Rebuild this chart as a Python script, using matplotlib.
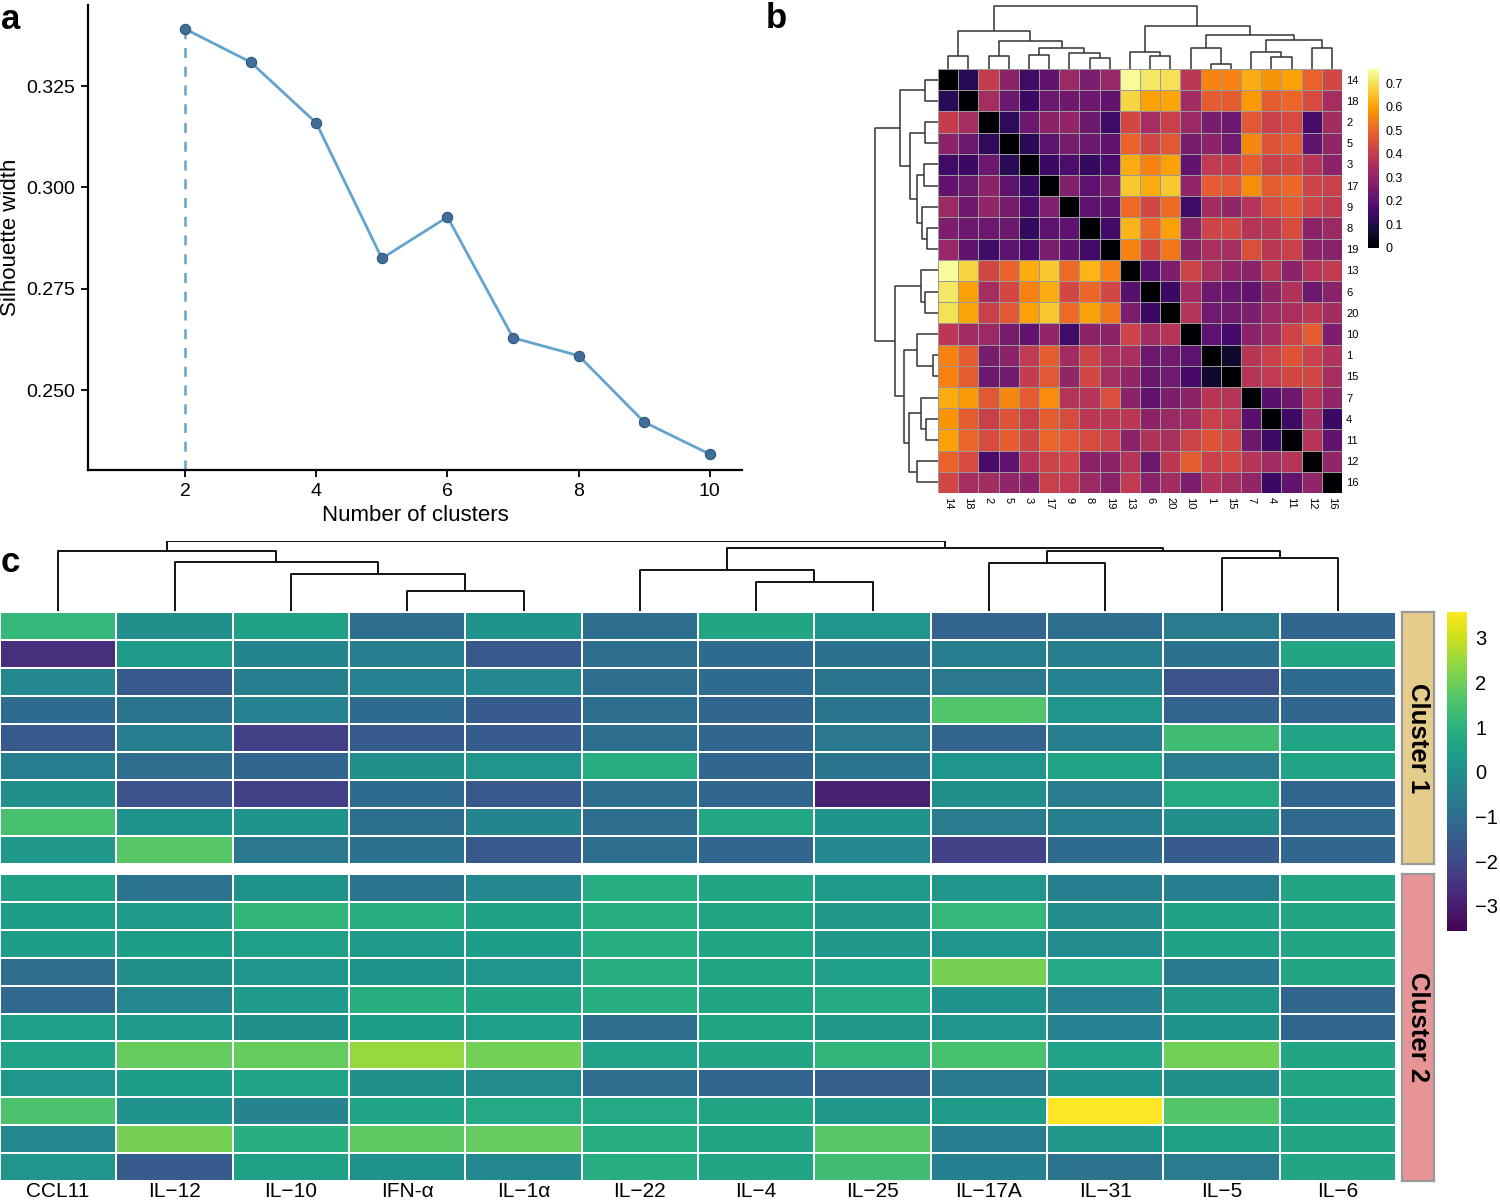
import numpy as np
import matplotlib.pyplot as plt
from matplotlib.cm import ScalarMappable
from matplotlib.colors import Normalize

plt.rcParams['font.family'] = ['Liberation Sans', 'DejaVu Sans']

# ---- panel a: silhouette width ----
k_values = [2, 3, 4, 5, 6, 7, 8, 9, 10]
silhouette = [0.3391, 0.3309, 0.3159, 0.2825, 0.2927, 0.2629, 0.2585, 0.2421, 0.2342]
best_k = 2

# ---- panel b: distance matrix (display order) ----
dist_labels = ['14', '18', '2', '5', '3', '17', '9', '8', '19', '13',
               '6', '20', '10', '1', '15', '7', '4', '11', '12', '16']
# upper triangle, row i holds columns i+1 .. 19
dist_upper = [
    [0.11, 0.40, 0.29, 0.15, 0.21, 0.32, 0.26, 0.31, 0.75, 0.71, 0.70, 0.38, 0.55, 0.55, 0.62, 0.58, 0.60, 0.49, 0.43],
    [0.34, 0.23, 0.14, 0.23, 0.235, 0.23, 0.21, 0.68, 0.60, 0.61, 0.33, 0.48, 0.48, 0.59, 0.48, 0.50, 0.44, 0.34],
    [0.12, 0.23, 0.29, 0.30, 0.23, 0.15, 0.43, 0.34, 0.41, 0.32, 0.255, 0.23, 0.47, 0.41, 0.44, 0.165, 0.335],
    [0.11, 0.20, 0.25, 0.23, 0.205, 0.49, 0.43, 0.47, 0.25, 0.29, 0.24, 0.56, 0.46, 0.48, 0.21, 0.30],
    [0.14, 0.17, 0.13, 0.17, 0.62, 0.55, 0.60, 0.21, 0.39, 0.40, 0.48, 0.41, 0.43, 0.37, 0.29],
    [0.27, 0.20, 0.26, 0.66, 0.62, 0.66, 0.30, 0.48, 0.47, 0.57, 0.48, 0.50, 0.42, 0.41],
    [0.20, 0.21, 0.51, 0.43, 0.51, 0.15, 0.33, 0.30, 0.37, 0.44, 0.47, 0.42, 0.39],
    [0.155, 0.63, 0.50, 0.60, 0.29, 0.42, 0.43, 0.37, 0.38, 0.44, 0.29, 0.32],
    [0.55, 0.43, 0.53, 0.29, 0.35, 0.34, 0.45, 0.38, 0.41, 0.29, 0.285],
    [0.19, 0.26, 0.42, 0.35, 0.30, 0.29, 0.38, 0.29, 0.37, 0.39],
    [0.14, 0.33, 0.23, 0.225, 0.21, 0.29, 0.36, 0.23, 0.285],
    [0.37, 0.24, 0.24, 0.26, 0.32, 0.35, 0.38, 0.335],
    [0.20, 0.16, 0.29, 0.33, 0.42, 0.48, 0.26],
    [0.06, 0.375, 0.41, 0.46, 0.41, 0.36],
    [0.37, 0.39, 0.43, 0.43, 0.34],
    [0.19, 0.235, 0.37, 0.30],
    [0.145, 0.33, 0.14],
    [0.37, 0.21],
    [0.30],
]
dist_max = 0.76
dist_ticks = [0, 0.1, 0.2, 0.3, 0.4, 0.5, 0.6, 0.7]
# tree over leaf positions: (left, right, merge height)
dist_tree = (((0, 1, 12.7),
              ((2, 3, 12.7), ((4, 5, 13.7), (6, (7, 8, 11.0), 16.0), 21.0), 27.7), 37.7),
             ((9, (10, 11, 12.7), 17.0),
              ((12, (13, 14, 5.0), 21.0),
               ((15, (16, 17, 12.0), 17.0), (18, 19, 21.0), 28.7), 34.3), 42.7),
             62.7)

# ---- panel c: cytokine z-scores ----
cytokines = ['CCL11', 'IL\u221212', 'IL\u221210', 'IFN-\u03b1', 'IL\u22121\u03b1', 'IL\u221222',
             'IL\u22124', 'IL\u221225', 'IL\u221217A', 'IL\u221231', 'IL\u22125', 'IL\u22126']
cluster1_z = [
    [1.2, 0.0, 0.5, -1.0, 0.1, -1.0, 0.65, 0.15, -1.3, -1.0, -0.6, -1.2],
    [-2.6, 0.35, -0.3, -0.5, -1.6, -1.0, -1.1, -0.9, -0.5, -0.5, -0.9, 0.65],
    [-0.2, -1.6, -0.5, -0.4, -0.2, -1.0, -1.1, -0.8, -0.7, -0.4, -1.75, -1.1],
    [-1.1, -0.8, -0.4, -1.1, -1.5, -1.0, -1.2, -0.8, 1.6, 0.15, -1.3, -1.2],
    [-1.6, -0.55, -2.2, -1.5, -1.5, -1.0, -1.2, -0.7, -1.3, -0.5, 1.4, 0.6],
    [-0.5, -1.05, -1.2, 0.0, 0.15, 0.85, -1.2, -0.8, 0.2, 0.6, -0.6, 0.6],
    [0.0, -1.75, -2.2, -1.1, -1.6, -1.0, -1.2, -2.9, 0.0, -0.6, 0.8, -1.2],
    [1.5, 0.05, 0.1, -0.95, -0.3, -1.0, 0.7, 0.1, -0.6, -0.5, 0.0, -1.15],
    [0.25, 1.7, -0.7, -0.9, -1.6, -1.0, -1.2, -0.2, -2.15, -1.1, -1.5, -1.2],
]
cluster2_z = [
    [0.5, -0.85, 0.05, -0.8, -0.2, 0.85, 0.65, 0.35, 0.15, -0.5, -0.5, 0.65],
    [0.4, 0.3, 1.1, 0.95, 0.5, 0.85, 0.65, 0.25, 1.2, -0.15, 0.5, 0.65],
    [0.4, 0.4, 0.45, 0.35, 0.4, 0.85, 0.65, 0.25, 0.2, -0.15, 0.5, 0.65],
    [-1.0, 0.0, 0.2, 0.05, 0.2, 0.85, 0.65, 0.45, 2.1, 0.75, -0.65, 0.65],
    [-1.15, -0.25, 0.35, 0.95, 0.65, 0.85, 0.65, 0.8, 0.1, -0.4, 0.25, -1.2],
    [0.45, 0.3, 0.0, 0.4, 0.45, -1.0, 0.65, 0.25, 0.2, -0.4, 0.1, -1.2],
    [0.55, 1.9, 1.9, 2.45, 2.05, 0.55, 0.65, 1.1, 1.5, 0.55, 2.05, 0.65],
    [0.2, 0.4, 0.6, 0.0, -0.15, -1.0, -1.25, -1.45, -0.65, 0.1, 0.0, 0.65],
    [1.55, 0.1, -0.35, 0.6, 0.75, 0.75, 0.65, 0.25, 0.35, 3.58, 1.65, 0.6],
    [-0.25, 2.1, 0.95, 1.8, 1.9, 0.85, 0.65, 1.7, -0.55, 0.25, 0.5, 0.65],
    [0.15, -1.5, 0.5, 0.05, -0.2, 0.85, 0.65, 1.4, -0.45, -0.85, -0.6, 0.65],
]
cluster_names = ['Cluster 1', 'Cluster 2']
cluster_colors = ['#E6CC8C', '#E69496']
z_min, z_max = -3.56, 3.58
z_ticks = [-3, -2, -1, 0, 1, 2, 3]
cyto_tree = ((0, (1, (2, (3, 4, 20.3), 37.0), 49.0), 60.3),
             ((5, (6, 7, 29.3), 41.3), ((8, 9, 48.0), (10, 11, 53.3), 60.3), 62.7),
             70.3)

W, H = 1500, 1204
fig = plt.figure(figsize=(W / 100, H / 100), dpi=100)


def ax_px(x0, y0, x1, y1):
    return fig.add_axes([x0 / W, 1 - y1 / H, (x1 - x0) / W, (y1 - y0) / H])


def draw_tree(ax, node, orient, color, lw):
    if isinstance(node, int):
        return node + 0.5, 0.0
    a, b, h = node
    xa, ha = draw_tree(ax, a, orient, color, lw)
    xb, hb = draw_tree(ax, b, orient, color, lw)
    pos = [xa, xa, xb, xb]
    hts = [ha, h, h, hb]
    if orient == 'top':
        ax.plot(pos, hts, color=color, lw=lw, solid_capstyle='butt')
    else:
        ax.plot(hts, pos, color=color, lw=lw, solid_capstyle='butt')
    return (xa + xb) / 2, h


# ===== panel a =====
line_c = '#65A3CF'
ax_a = ax_px(88, 5, 742, 470)
ax_a.plot([best_k, best_k], [0.2303, silhouette[k_values.index(best_k)]],
          color=line_c, lw=1.8, ls=(0, (4, 3.5)), zorder=1)
ax_a.plot(k_values, silhouette, color=line_c, lw=2, zorder=2)
ax_a.scatter(k_values, silhouette, s=55, color='#3F6E98', edgecolor='#2E5678', lw=0.8, zorder=3)
ax_a.set_xlim(0.52, 10.49)
ax_a.set_ylim(0.2303, 0.345)
ax_a.set_xticks([2, 4, 6, 8, 10])
ax_a.set_yticks([0.250, 0.275, 0.300, 0.325])
ax_a.set_yticklabels(['0.250', '0.275', '0.300', '0.325'])
for s in ['top', 'right']:
    ax_a.spines[s].set_visible(False)
for s in ['left', 'bottom']:
    ax_a.spines[s].set_linewidth(1.6)
ax_a.tick_params(labelsize=14, length=5, width=1.3, pad=4)
ax_a.set_xlabel('Number of clusters', fontsize=16, labelpad=4)
ax_a.set_ylabel('Silhouette width', fontsize=16)
ax_a.yaxis.set_label_coords(-0.103, 0.5)

# ===== panel b =====
n = len(dist_labels)
D = np.zeros((n, n))
for i, row in enumerate(dist_upper):
    for j, v in enumerate(row):
        D[i, i + 1 + j] = v
        D[i + 1 + j, i] = v

ax_b = ax_px(938, 69, 1342, 493)
ax_b.pcolormesh(D, cmap='inferno', vmin=0, vmax=dist_max, edgecolors='#9a9a9a', linewidth=0.7)
ax_b.set_xlim(0, n)
ax_b.set_ylim(n, 0)
ax_b.set_xticks(np.arange(n) + 0.5)
ax_b.set_xticklabels(dist_labels, rotation=-90, fontsize=8)
ax_b.set_yticks(np.arange(n) + 0.5)
ax_b.set_yticklabels(dist_labels, fontsize=8)
ax_b.yaxis.tick_right()
ax_b.tick_params(length=0, pad=3)
for s in ax_b.spines.values():
    s.set_visible(False)

root_h = dist_tree[2]
ax_bt = ax_px(938, 69 - root_h - 1, 1342, 69)
draw_tree(ax_bt, dist_tree, 'top', '#333333', 1.1)
ax_bt.set_xlim(0, n)
ax_bt.set_ylim(0, root_h + 1)
ax_bt.axis('off')

ax_bl = ax_px(938 - root_h - 1, 69, 938, 493)
draw_tree(ax_bl, dist_tree, 'left', '#333333', 1.1)
ax_bl.set_ylim(n, 0)
ax_bl.set_xlim(root_h + 1, 0)
ax_bl.axis('off')

cax_b = ax_px(1368, 69, 1379, 248)
cb_b = fig.colorbar(ScalarMappable(Normalize(0, dist_max), 'inferno'), cax=cax_b, ticks=dist_ticks)
cb_b.set_ticklabels(['0'] + ['%.1f' % t for t in dist_ticks[1:]])
cb_b.outline.set_visible(False)
cax_b.tick_params(length=0, labelsize=9, pad=5)

# ===== panel c =====
ncol = len(cytokines)
c_top, c_split, c_gap, c_bot = 612, 864, 874, 1181
ax_c1 = ax_px(0, c_top, 1396, c_split)
ax_c2 = ax_px(0, c_gap, 1396, c_bot)
for ax, z in [(ax_c1, cluster1_z), (ax_c2, cluster2_z)]:
    z = np.array(z)
    ax.pcolormesh(z, cmap='viridis', vmin=z_min, vmax=z_max, edgecolors='white', linewidth=1.4)
    ax.set_xlim(0, ncol)
    ax.set_ylim(len(z), 0)
    ax.set_xticks([])
    ax.set_yticks([])
    for s in ax.spines.values():
        s.set_visible(False)
ax_c2.set_xticks(np.arange(ncol) + 0.5)
ax_c2.set_xticklabels(cytokines, fontsize=15)
ax_c2.tick_params(length=0, pad=1)

tree_h = cyto_tree[2]
ax_ct = ax_px(0, c_top - 1 - tree_h, 1396, c_top - 1)
draw_tree(ax_ct, cyto_tree, 'top', 'black', 1.3)
ax_ct.set_xlim(0, ncol)
ax_ct.set_ylim(0, tree_h)
ax_ct.axis('off')

for (y0, y1), name, col in zip([(c_top, c_split), (c_gap, c_bot)], cluster_names, cluster_colors):
    ax_ann = ax_px(1402, y0, 1434, y1)
    ax_ann.set_facecolor(col)
    ax_ann.set_xticks([])
    ax_ann.set_yticks([])
    for s in ax_ann.spines.values():
        s.set_edgecolor('#9a9a9a')
        s.set_linewidth(1.6)
    ax_ann.text(0.5, 0.5, name, rotation=-90, ha='center', va='center',
                fontsize=18.5, fontweight='bold', transform=ax_ann.transAxes)

cax_c = ax_px(1447, 612, 1467, 931)
cb_c = fig.colorbar(ScalarMappable(Normalize(z_min, z_max), 'viridis'), cax=cax_c, ticks=z_ticks)
cb_c.outline.set_visible(False)
cax_c.tick_params(length=0, labelsize=14.5, pad=6)

# panel letters
fig.text(1 / W, 1 - 29 / H, 'a', fontsize=25, fontweight='bold')
fig.text(766 / W, 1 - 28 / H, 'b', fontsize=25, fontweight='bold')
fig.text(1 / W, 1 - 572 / H, 'c', fontsize=25, fontweight='bold')

fig.savefig('out.png', dpi=100)
